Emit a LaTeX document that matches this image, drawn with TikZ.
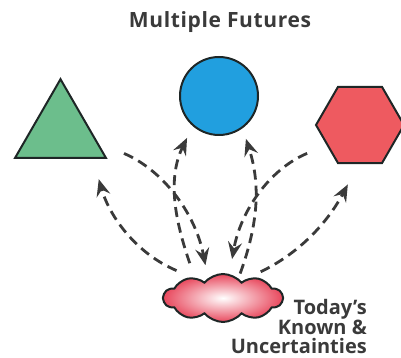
\documentclass[tikz,border=0pt]{standalone}
\usepackage{fontspec}
\setmainfont{Open Sans}
\usetikzlibrary{arrows.meta,shapes.geometric,shapes.symbols}
\definecolor{verdeTri}{HTML}{6CBE8C}
\definecolor{azulCirc}{HTML}{219FDF}
\definecolor{rojoHex}{HTML}{EE5A60}
\definecolor{rojoNube}{HTML}{E8475C}
\definecolor{grisT}{HTML}{3A3A3A}
\definecolor{bordeO}{HTML}{1E2626}

\begin{document}
\begin{tikzpicture}[x=1pt,y=1pt,>={Stealth[length=17pt,width=14pt,inset=6pt]},
  forma/.style={draw=bordeO,line width=2pt,inner sep=0pt},
  flecha/.style={->,grisT,line width=2.8pt,dash pattern=on 10pt off 6pt}]
  \useasboundingbox (0,0) rectangle (401,358);
  \node[font=\bfseries\fontsize{21}{23}\selectfont\addfontfeatures{LetterSpace=3},
    grisT,anchor=base] (titulo) at (220,330) {Multiple Futures};
  \node[forma,fill=verdeTri,regular polygon,regular polygon sides=3,
    minimum size=105pt] (tri) at (60.5,226.3) {};
  \node[forma,fill=azulCirc,circle,minimum size=78pt] (circ) at (219,262) {};
  \node[forma,fill=rojoHex,regular polygon,regular polygon sides=6,
    minimum size=88pt] (hex) at (360,233) {};
  \node[forma,cloud,cloud puffs=10,cloud puff arc=100,aspect=2.4,
    minimum width=119pt,minimum height=48pt,
    inner color=white,outer color=rojoNube] (nube) at (223,60) {};
  \node[font=\bfseries\fontsize{20}{19.5}\selectfont,grisT,align=right,
    anchor=south east,inner sep=0pt] (texto)
    at (367,4) {Today's\\Known \&\\Uncertainties};
  % caminos punteados
  \draw[flecha,shorten <=17pt,shorten >=21pt] (nube.146) to[out=157,in=-74] (tri.-40);
  \draw[flecha,shorten <=28pt,shorten >=13pt] (tri.-16) to[out=-23,in=101] (nube.127);
  \draw[flecha,shorten <=15pt,shorten >=13pt] (nube.144) to[out=109,in=-116] (circ.-131);
  \draw[flecha,shorten <=5pt,shorten >=11pt] (nube.52) to[out=70,in=-72] (circ.-54);
  \draw[flecha,shorten <=21pt,shorten >=15pt] (hex.211) to[out=203,in=80] (nube.75);
  \draw[flecha,shorten <=15pt,shorten >=23pt] (nube.39) to[out=26,in=-118] (hex.-92);
\end{tikzpicture}
\end{document}
